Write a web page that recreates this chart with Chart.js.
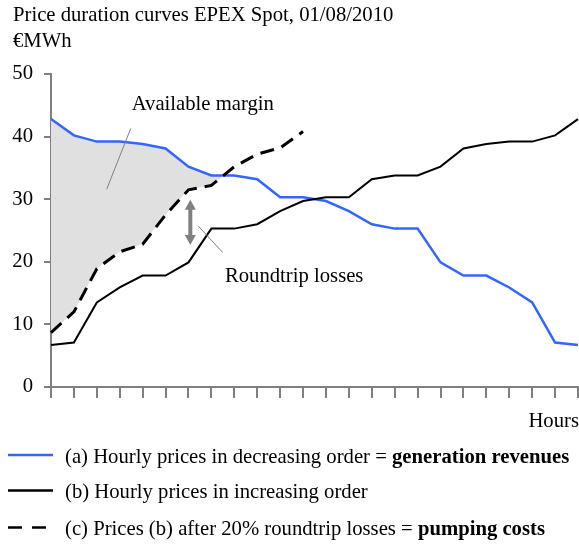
<!DOCTYPE html>
<html>
<head>
<meta charset="utf-8">
<script src="https://cdn.jsdelivr.net/npm/chart.js@4.4.0/dist/chart.umd.min.js"></script>
<style>
  html, body { margin: 0; padding: 0; background: #fff; }
  #wrap { position: relative; width: 579px; height: 545px; }
</style>
</head>
<body>
<div id="wrap"><canvas id="priceChart" width="579" height="545"></canvas></div>
<script>
// values (01/08/2010)
const hours = ['1', '2', '3', '4', '5', '6', '7', '8', '9', '10', '11', '12',
  '13', '14', '15', '16', '17', '18', '19', '20', '21', '22', '23', '24'];

// (a) prices sorted high -> low
const decreasingPrices = [42.8, 40.2, 39.2, 39.2, 38.8, 38.1, 35.2, 33.8, 33.8, 33.2, 30.3, 30.3,
  29.7, 28.1, 26.0, 25.3, 25.3, 19.9, 17.8, 17.8, 15.9, 13.5, 7.1, 6.7];
// (b) prices sorted low -> high
const increasingPrices = [6.7, 7.1, 13.5, 15.9, 17.8, 17.8, 19.9, 25.3, 25.3, 26.0, 28.1, 29.7,
  30.3, 30.3, 33.2, 33.8, 33.8, 35.2, 38.1, 38.8, 39.2, 39.2, 40.2, 42.8];
// (c) pumping costs, only drawn for the first hours
const pumpingCosts = [8.7, 12.0, 18.9, 21.6, 22.8, 27.5, 31.5, 32.2, 35.2, 37.2, 38.2, 40.8,
  null, null, null, null, null, null, null, null, null, null, null, null];

const yTickValues = [0, 10, 20, 30, 40, 50];

const titleLines = ['Price duration curves EPEX Spot, 01/08/2010', '\u20ACMWh'];
const xAxisTitle = 'Hours';
const seriesNames = [
  ['(a) Hourly prices in decreasing order = ', 'generation revenues'],
  ['(b) Hourly prices in increasing order', ''],
  ['(c) Prices (b) after 20% roundtrip losses = ', 'pumping costs']
];
const marginLabel = 'Available margin';
const lossesLabel = 'Roundtrip losses';

const serif = '"Liberation Serif", "Times New Roman", serif';
const fontSize = 20.7;
const blue = '#3366ff';
const axisGrey = '#808080';

function drawArrowHead(ctx, x, y, dir) {
    ctx.beginPath();
    ctx.moveTo(x, y);
    ctx.lineTo(x - 5.5, y - dir * 10);
    ctx.lineTo(x + 5.5, y - dir * 10);
    ctx.closePath();
    ctx.fill();
}

// title, axis title, notes and legend drawn on the canvas
const extras = {
    id: 'extras',
    afterDatasetsDraw(chart) {
        const ctx = chart.ctx;
        const xs = chart.scales.x;
        const ys = chart.scales.y;
        ctx.save();

        // leader line for "Available margin"
        ctx.strokeStyle = axisGrey;
        ctx.lineWidth = 1;
        ctx.beginPath();
        ctx.moveTo(xs.getPixelForValue(3.48), ys.getPixelForValue(41.3));
        ctx.lineTo(xs.getPixelForValue(2.43), ys.getPixelForValue(31.6));
        ctx.stroke();

        // leader line for "Roundtrip losses"
        ctx.beginPath();
        ctx.moveTo(xs.getPixelForValue(6.43), ys.getPixelForValue(25.7));
        ctx.lineTo(xs.getPixelForValue(7.49), ys.getPixelForValue(21.5));
        ctx.stroke();

        // double arrow between (c) and (b)
        const ax = xs.getPixelForValue(6.08);
        const top = ys.getPixelForValue(29.9);
        const bottom = ys.getPixelForValue(22.7);
        ctx.strokeStyle = axisGrey;
        ctx.fillStyle = axisGrey;
        ctx.lineWidth = 4;
        ctx.beginPath();
        ctx.moveTo(ax, top + 8);
        ctx.lineTo(ax, bottom - 8);
        ctx.stroke();
        drawArrowHead(ctx, ax, top, -1);
        drawArrowHead(ctx, ax, bottom, 1);

        ctx.fillStyle = '#000';
        ctx.font = fontSize + 'px ' + serif;
        ctx.textBaseline = 'alphabetic';
        ctx.textAlign = 'left';
        ctx.fillText(marginLabel, xs.getPixelForValue(3.52), ys.getPixelForValue(44.2));
        ctx.fillText(lossesLabel, xs.getPixelForValue(7.59), ys.getPixelForValue(16.7));
        ctx.restore();
    },
    afterDraw(chart) {
        const ctx = chart.ctx;
        ctx.save();
        ctx.fillStyle = '#000';
        ctx.font = fontSize + 'px ' + serif;
        ctx.textBaseline = 'alphabetic';
        ctx.textAlign = 'left';
        ctx.fillText(titleLines[0], 13, 21);
        ctx.fillText(titleLines[1], 13, 47);

        ctx.textAlign = 'right';
        ctx.fillText(xAxisTitle, 579, 427);

        // legend
        const rows = [
            { color: blue, dash: [], y: 457.5 },
            { color: '#000', dash: [], y: 493 },
            { color: '#000', dash: [14, 10], y: 530 }
        ];
        ctx.textAlign = 'left';
        ctx.textBaseline = 'middle';
        rows.forEach(function (row, i) {
            ctx.strokeStyle = row.color;
            ctx.lineWidth = 2.5;
            ctx.setLineDash(row.dash);
            ctx.beginPath();
            ctx.moveTo(8, row.y - 2.5);
            ctx.lineTo(53, row.y - 2.5);
            ctx.stroke();
            ctx.setLineDash([]);

            ctx.font = fontSize + 'px ' + serif;
            ctx.fillText(seriesNames[i][0], 65, row.y);
            if (seriesNames[i][1]) {
                const w = ctx.measureText(seriesNames[i][0]).width;
                ctx.font = 'bold ' + fontSize + 'px ' + serif;
                ctx.fillText(seriesNames[i][1], 65 + w, row.y);
            }
        });
        ctx.restore();
    }
};

function createChart() {
    new Chart(document.getElementById('priceChart').getContext('2d'), {
        type: 'line',
        data: {
            labels: hours,
            datasets: [{
                label: seriesNames[0].join(''),
                data: decreasingPrices,
                borderColor: blue,
                borderWidth: 2.5,
                pointRadius: 0,
                tension: 0,
                order: 3,
                fill: { target: 2, above: '#e0e0e0', below: 'rgba(0,0,0,0)' }
            }, {
                label: seriesNames[1].join(''),
                data: increasingPrices,
                borderColor: '#000',
                borderWidth: 2,
                pointRadius: 0,
                tension: 0,
                order: 2,
                fill: false
            }, {
                label: seriesNames[2].join(''),
                data: pumpingCosts,
                borderColor: '#000',
                borderWidth: 3,
                borderDash: [14, 8],
                pointRadius: 0,
                tension: 0,
                order: 1,
                spanGaps: false,
                fill: false
            }]
        },
        options: {
            responsive: false,
            animation: false,
            devicePixelRatio: 1,
            layout: {
                padding: { top: 74, right: 1, bottom: 147, left: 0 }
            },
            plugins: {
                legend: { display: false },
                tooltip: { enabled: false },
                filler: { drawTime: 'beforeDatasetsDraw' }
            },
            scales: {
                x: {
                    type: 'category',
                    offset: false,
                    grid: {
                        drawOnChartArea: false,
                        drawTicks: true,
                        tickLength: 11,
                        color: axisGrey,
                        lineWidth: 2
                    },
                    border: { color: axisGrey, width: 2 },
                    ticks: { display: false },
                    afterFit: function (scale) { scale.height = 11; }
                },
                y: {
                    min: 0,
                    max: 50,
                    afterBuildTicks: function (scale) {
                        scale.ticks = yTickValues.map(function (v) { return { value: v }; });
                    },
                    grid: {
                        drawOnChartArea: false,
                        drawTicks: true,
                        tickLength: 7,
                        color: axisGrey,
                        lineWidth: 2
                    },
                    border: { color: axisGrey, width: 2 },
                    ticks: {
                        color: '#000',
                        padding: 11,
                        font: { family: serif, size: fontSize }
                    },
                    afterFit: function (scale) { scale.width = 51; }
                }
            }
        },
        plugins: [extras]
    });
}

createChart();
</script>
</body>
</html>
